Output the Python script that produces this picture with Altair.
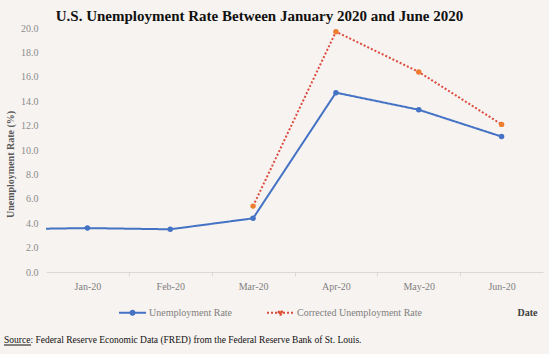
import json
import altair as alt
import pandas as pd

# ---- data ----
month_idx = [-1, 0, 1, 2, 3, 4, 5]
month_names = ["Dec-19", "Jan-20", "Feb-20", "Mar-20", "Apr-20", "May-20", "Jun-20"]
unemployment = [3.5, 3.6, 3.5, 4.4, 14.7, 13.3, 11.1]
corrected = [None, None, None, 5.4, 19.7, 16.4, 12.1]
axis_labels = ["Jan-20", "Feb-20", "Mar-20", "Apr-20", "May-20", "Jun-20"]
series_names = ["Unemployment Rate", "Corrected Unemployment Rate"]
y_ticks = [0, 2, 4, 6, 8, 10, 12, 14, 16, 18, 20]
title_text = "U.S. Unemployment Rate Between January 2020 and June 2020"
source_text = "Source: Federal Reserve Economic Data (FRED) from the Federal Reserve Bank of St. Louis."

rows = []
for i, m, u, c in zip(month_idx, month_names, unemployment, corrected):
    rows.append({"idx": i, "month": m, "series": series_names[0], "value": u})
    if c is not None:
        rows.append({"idx": i, "month": m, "series": series_names[1], "value": c})
df = pd.DataFrame(rows)

SERIF = "Liberation Serif"
BLUE = "#4472C4"
RED = "#DC4B3E"
ORANGE = "#ED7D31"
W, H = 497, 244

label_expr = (
    "datum.value % 1 === 0 && datum.value >= 0 ? "
    + json.dumps(axis_labels)
    + "[datum.value] : ''"
)

x_enc = alt.X(
    "idx:Q",
    scale=alt.Scale(domain=[-0.5, 5.5], nice=False, zero=False),
    axis=alt.Axis(
        title="Date",
        values=[0, 0.5, 1, 1.5, 2, 2.5, 3, 3.5, 4, 4.5, 5],
        labelExpr=label_expr,
        grid=False,
        domainColor="#d9d9d9",
        tickColor={"condition": {"test": "datum.value % 1 === 0", "value": "transparent"}, "value": "#d9d9d9"},
        tickSize=4,
        labelPadding=5,
        labelFont=SERIF,
        labelFontSize=10,
        labelColor="#808080",
        titleFont=SERIF,
        titleFontSize=10,
        titleFontWeight="bold",
        titleColor="#404040",
        titleAnchor="end",
        titleAlign="right",
        titleBaseline="middle",
        titleX=W - 6,
        titleY=40,
    ),
)
y_enc = alt.Y(
    "value:Q",
    scale=alt.Scale(domain=[0, 20], nice=False),
    axis=alt.Axis(
        title="Unemployment Rate (%)",
        values=y_ticks,
        format=".1f",
        grid=False,
        domain=False,
        ticks=False,
        labelPadding=8,
        labelFont=SERIF,
        labelFontSize=10,
        labelColor="#8c8c8c",
        titleFont=SERIF,
        titleFontSize=10,
        titleFontWeight="bold",
        titleColor="#595959",
        titleAngle=270,
        titleAlign="center",
        titleBaseline="middle",
        titleX=-36,
        titleY=136,
    ),
)

stroke_enc = alt.Stroke(
    "series:N",
    scale=alt.Scale(domain=series_names, range=[BLUE, RED]),
    legend=alt.Legend(title=None),
)
dash_enc = alt.StrokeDash(
    "series:N",
    scale=alt.Scale(domain=series_names, range=[[1, 0], [2, 2]]),
    legend=alt.Legend(title=None),
)
fill_enc = alt.Fill(
    "series:N",
    scale=alt.Scale(domain=series_names, range=[BLUE, ORANGE]),
    legend=alt.Legend(title=None),
)

base = alt.Chart(df)
lines = base.mark_line(strokeWidth=2, clip=True).encode(
    x=x_enc, y=y_enc, stroke=stroke_enc, strokeDash=dash_enc,
    order="idx:Q",
)
points = base.mark_circle(size=30, opacity=1, clip=True).encode(
    x=x_enc, y=y_enc, fill=fill_enc,
)

src_df = pd.DataFrame({"t": [source_text]})
source = alt.Chart(src_df).mark_text(
    align="left", baseline="middle", font=SERIF, fontSize=9.5, color="#111111"
).encode(x=alt.value(-42), y=alt.value(312), text="t:N")
underline = alt.Chart(src_df).mark_rule(color="#111111", strokeWidth=1).encode(
    x=alt.value(-42), x2=alt.value(-15), y=alt.value(317)
)

symbol_path = "M-1,0L1,0M-0.15,0A0.15,0.15,0,1,1,0.15,0A0.15,0.15,0,1,1,-0.15,0Z"

chart = (
    alt.layer(lines, points, source, underline)
    .properties(
        width=W,
        height=H,
        title=alt.TitleParams(
            title_text,
            font=SERIF,
            fontSize=15,
            fontWeight="bold",
            color="#111111",
            anchor="middle",
            dx=-35,
            offset=-1,
        ),
        autosize=alt.AutoSizeParams(type="none"),
        padding={"left": 46, "top": 28, "right": 6, "bottom": 82},
    )
    .configure(background="#F7F3F0")
    .configure_view(stroke=None)
    .configure_legend(
        orient="none",
        legendX=72,
        legendY=270,
        direction="horizontal",
        symbolType=symbol_path,
        symbolSize=729,
        symbolStrokeWidth=2,
        labelFont=SERIF,
        labelFontSize=10,
        labelColor="#808080",
        labelOffset=2,
        columnPadding=30,
        padding=0,
    )
)

chart.save("out.html", embed_options={"renderer": "svg", "actions": False})
